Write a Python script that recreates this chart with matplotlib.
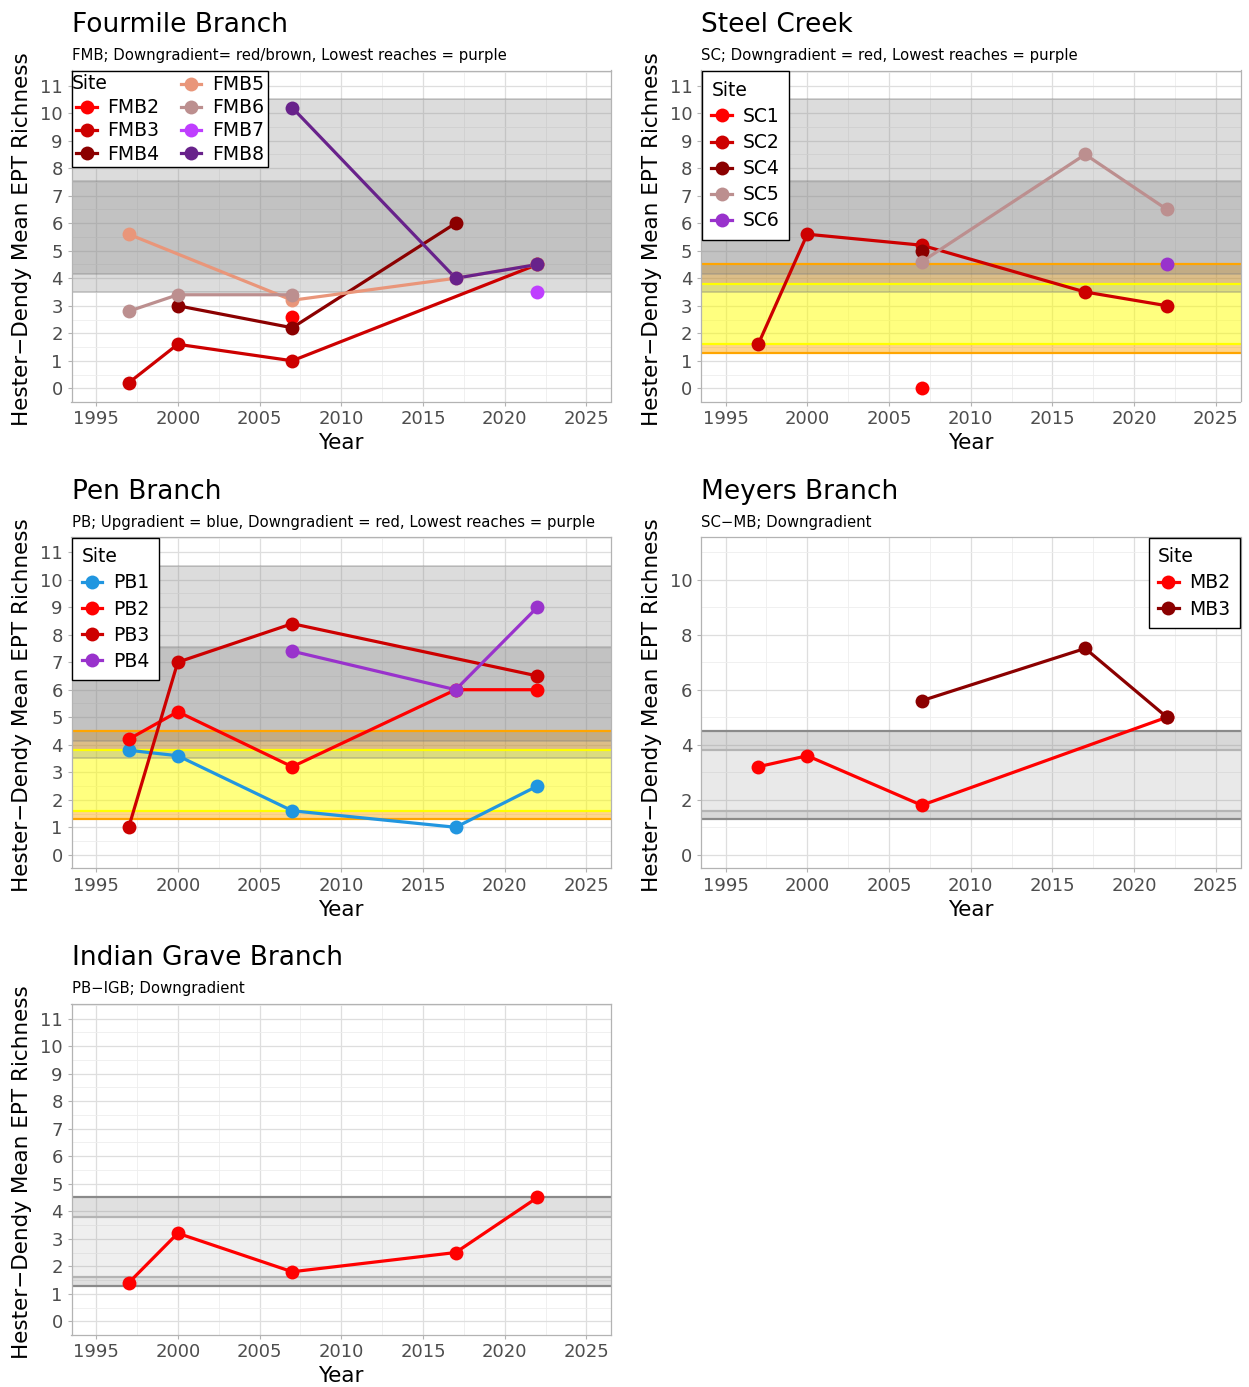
import numpy as np
import matplotlib
matplotlib.use("Agg")
import matplotlib.pyplot as plt
from matplotlib.lines import Line2D
from matplotlib.legend_handler import HandlerBase
from matplotlib.text import Text

plt.rcParams["font.family"] = ["DejaVu Sans"]

# ---- data: one year list + one value list per site ----
FMB2_yr, FMB2 = [2007], [2.6]
FMB3_yr, FMB3 = [1997, 2000, 2007, 2022], [0.2, 1.6, 1.0, 4.5]
FMB4_yr, FMB4 = [2000, 2007, 2017], [3.0, 2.2, 6.0]
FMB5_yr, FMB5 = [1997, 2007, 2017, 2022], [5.6, 3.2, 4.0, 4.5]
FMB6_yr, FMB6 = [1997, 2000, 2007], [2.8, 3.4, 3.4]
FMB7_yr, FMB7 = [2022], [3.5]
FMB8_yr, FMB8 = [2007, 2017, 2022], [10.2, 4.0, 4.5]

SC1_yr, SC1 = [2007], [0.0]
SC2_yr, SC2 = [1997, 2000, 2007, 2017, 2022], [1.6, 5.6, 5.2, 3.5, 3.0]
SC4_yr, SC4 = [2007], [5.0]
SC5_yr, SC5 = [2007, 2017, 2022], [4.6, 8.5, 6.5]
SC6_yr, SC6 = [2022], [4.5]

PB1_yr, PB1 = [1997, 2000, 2007, 2017, 2022], [3.8, 3.6, 1.6, 1.0, 2.5]
PB2_yr, PB2 = [1997, 2000, 2007, 2017, 2022], [4.2, 5.2, 3.2, 6.0, 6.0]
PB3_yr, PB3 = [1997, 2000, 2007, 2022], [1.0, 7.0, 8.4, 6.5]
PB4_yr, PB4 = [2007, 2017, 2022], [7.4, 6.0, 9.0]

MB2_yr, MB2 = [1997, 2000, 2007, 2022], [3.2, 3.6, 1.8, 5.0]
MB3_yr, MB3 = [2007, 2017, 2022], [5.6, 7.5, 5.0]

IGB_yr, IGB = [1997, 2000, 2007, 2017, 2022], [1.4, 3.2, 1.8, 2.5, 4.5]

# reference bands (EPT richness ranges)
gray_wide = (3.5, 10.5)
gray_mid = (4.15, 7.55)
outer_band = (1.3, 4.5)
inner_band = (1.6, 3.8)

titles = ["Fourmile Branch", "Steel Creek", "Pen Branch", "Meyers Branch", "Indian Grave Branch"]
subtitles = ["FMB; Downgradient= red/brown, Lowest reaches = purple",
             "SC; Downgradient = red, Lowest reaches = purple",
             "PB; Upgradient = blue, Downgradient = red, Lowest reaches = purple",
             "SC\u2212MB; Downgradient",
             "PB\u2212IGB; Downgradient"]

RED, RED3, DRED = "#FF0000", "#CD0000", "#8B0000"
SALMON, ROSY = "#E9967A", "#BC8F8F"
ORCHID1, ORCHID, ORCHID4 = "#BF3EFF", "#9932CC", "#68228B"
BLUE = "#2196E0"

panels = [
    [("FMB2", FMB2_yr, FMB2, RED), ("FMB3", FMB3_yr, FMB3, RED3), ("FMB4", FMB4_yr, FMB4, DRED),
     ("FMB5", FMB5_yr, FMB5, SALMON), ("FMB6", FMB6_yr, FMB6, ROSY), ("FMB7", FMB7_yr, FMB7, ORCHID1),
     ("FMB8", FMB8_yr, FMB8, ORCHID4)],
    [("SC1", SC1_yr, SC1, RED), ("SC2", SC2_yr, SC2, RED3), ("SC4", SC4_yr, SC4, DRED),
     ("SC5", SC5_yr, SC5, ROSY), ("SC6", SC6_yr, SC6, ORCHID)],
    [("PB1", PB1_yr, PB1, BLUE), ("PB2", PB2_yr, PB2, RED), ("PB3", PB3_yr, PB3, RED3),
     ("PB4", PB4_yr, PB4, ORCHID)],
    [("MB2", MB2_yr, MB2, RED), ("MB3", MB3_yr, MB3, DRED)],
    [("IGB", IGB_yr, IGB, RED)],
]

W, H = 1249, 1387
fig = plt.figure(figsize=(W / 100, H / 100), dpi=100)

lefts = [71.5, 701]
tops = [70.5, 537, 1003.5]
aw, ah = 539.5, 331
slots = [(0, 0), (0, 1), (1, 0), (1, 1), (2, 0)]

LW, MS = 2.3, 10


class TitleEntry(HandlerBase):
    def create_artists(self, legend, orig_handle, xdescent, ydescent, width, height, fontsize, trans):
        t = Text(-xdescent - 3, height / 2 - ydescent, "Site", fontsize=fontsize,
                 ha="left", va="center", color="black", transform=trans)
        return [t]


def gray_bands(ax, alpha=0.27):
    for lo, hi in (gray_wide, gray_mid):
        ax.axhspan(lo, hi, color="#7F7F7F", alpha=alpha, lw=0, zorder=1)
        for y in (lo, hi):
            ax.axhline(y, color="#7F7F7F", alpha=0.35, lw=1.3, zorder=1.1)


def color_bands(ax):
    for lo, hi in ((outer_band[0], inner_band[0]), (inner_band[1], outer_band[1])):
        ax.axhspan(lo, hi, color="#FFA500", alpha=0.45, lw=0, zorder=1)
    ax.axhspan(inner_band[0], inner_band[1], color="#FFFF00", alpha=0.5, lw=0, zorder=1)
    for y in outer_band:
        ax.axhline(y, color="#FFA500", lw=1.6, zorder=1.05)
    for y in inner_band:
        ax.axhline(y, color="#FFFF00", lw=1.6, zorder=1.05)


def grey_ranges(ax, a_out, a_in):
    for lo, hi in ((outer_band[0], inner_band[0]), (inner_band[1], outer_band[1])):
        ax.axhspan(lo, hi, color="#7F7F7F", alpha=a_out, lw=0, zorder=1)
    ax.axhspan(inner_band[0], inner_band[1], color="#7F7F7F", alpha=a_in, lw=0, zorder=1)
    for y in outer_band:
        ax.axhline(y, color="#8A8A8A", lw=1.6, zorder=1.05)
    for y in inner_band:
        ax.axhline(y, color="#B4B4B4", lw=1.6, zorder=1.05)


for i, (r, c) in enumerate(slots):
    left, top = lefts[c], tops[r]
    ax = fig.add_axes([left / W, 1 - (top + ah) / H, aw / W, ah / H])
    ax.set_axisbelow(True)
    ax.set_xlim(1993.5, 2026.5)
    ax.set_ylim(-0.48, 11.55)
    ax.set_xticks(np.arange(1995, 2026, 5))
    ax.set_xticks(np.arange(1997.5, 2026, 5), minor=True)
    if i == 3:
        ax.set_yticks(np.arange(0, 11, 2))
        ax.set_yticks(np.arange(1, 12, 2), minor=True)
    else:
        ax.set_yticks(np.arange(0, 12, 1))
        ax.set_yticks(np.arange(0.5, 11.6, 1), minor=True)
    ax.grid(which="major", color="#DEDEDE", lw=0.9)
    ax.grid(which="minor", color="#EEEEEE", lw=0.6)
    for s in ax.spines.values():
        s.set_color("#B3B3B3")
        s.set_linewidth(0.9)
    ax.tick_params(which="major", length=2.8, color="#B3B3B3", labelcolor="#4D4D4D",
                   labelsize=13, pad=3.5)
    ax.tick_params(which="minor", length=0)

    if i == 0:
        gray_bands(ax)
    elif i in (1, 2):
        color_bands(ax)
        gray_bands(ax)
    elif i == 3:
        grey_ranges(ax, 0.3, 0.17)
    else:
        grey_ranges(ax, 0.24, 0.12)

    for name, yr, val, col in panels[i]:
        ax.plot(yr, val, "-", color=col, lw=LW, zorder=3, solid_capstyle="round")
    for name, yr, val, col in panels[i]:
        ax.plot(yr, val, "o", color=col, ms=MS, mew=0, zorder=4)

    handles = [Line2D([], [], color=col, lw=LW, marker="o", ms=MS, mew=0)
               for name, yr, val, col in panels[i]]
    labels = [name for name, yr, val, col in panels[i]]
    leg_kw = dict(fontsize=13.5, frameon=True, fancybox=False, framealpha=1,
                  edgecolor="black", handlelength=1.1, handletextpad=0.55,
                  borderaxespad=0.05)
    if i == 0:
        dummy = Line2D([], [], ls="none")
        leg = ax.legend([dummy] + handles, [""] + labels, loc="upper left", ncol=2,
                        columnspacing=1.15, handler_map={dummy: TitleEntry()},
                        labelspacing=0.22, borderpad=0.2, **leg_kw)
    elif i in (1, 2):
        leg = ax.legend(handles, labels, loc="upper left", title="Site",
                        alignment="left", title_fontsize=13.5,
                        labelspacing=0.38, borderpad=0.5, **leg_kw)
    elif i == 3:
        leg = ax.legend(handles, labels, loc="upper right", title="Site",
                        alignment="left", title_fontsize=13.5,
                        labelspacing=0.38, borderpad=0.5, **leg_kw)
    else:
        leg = None
    if leg is not None:
        leg.get_frame().set_linewidth(1.0)
        leg.set_zorder(10)

    fig.text(left / W, 1 - (top - 38.2) / H, titles[i], fontsize=19, va="baseline", ha="left")
    fig.text(left / W, 1 - (top - 10.3) / H, subtitles[i], fontsize=10.7, va="baseline", ha="left")
    fig.text((left - 49.5) / W, 1 - (top + ah / 2 + 3) / H, "Hester\u2212Dendy Mean EPT Richness",
             fontsize=15.5, rotation=90, va="center", ha="center")
    fig.text((left + aw / 2) / W, 1 - (top + ah + 41.5) / H, "Year",
             fontsize=15.5, va="center", ha="center")

fig.savefig("out.png", dpi=100)
